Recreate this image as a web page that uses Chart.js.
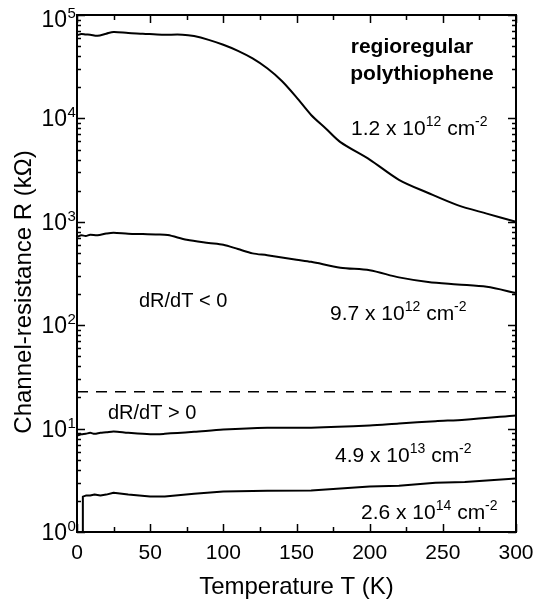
<!DOCTYPE html>
<html>
<head>
<meta charset="utf-8">
<script src="https://cdn.jsdelivr.net/npm/chart.js@4.4.1/dist/chart.umd.min.js"></script>
<style>
  html, body { margin: 0; padding: 0; background: #fff; }
  #wrap { width: 536px; height: 603px; }
</style>
</head>
<body>
<div id="wrap"><canvas id="chart"></canvas></div>
<script>
// 1.2 x 10^12 cm^-2
const temp1 = [0.5, 3, 6, 9, 14, 20, 25, 35, 45, 58, 72, 80, 90, 100, 110, 120, 130, 140, 150, 160, 170, 180, 200, 220, 240, 260, 280, 300];
const res1  = [64000, 65500, 64800, 64500, 63000, 66000, 68500, 67000, 66000, 64500, 64500, 62500, 57500, 51500, 45000, 38000, 30500, 23000, 16000, 10800, 8000, 5900, 4000, 2550, 1900, 1450, 1200, 1000];
// 9.7 x 10^12 cm^-2
const temp2 = [0.5, 3, 6, 9, 14, 20, 25, 35, 45, 55, 62, 75, 90, 100, 110, 120, 130, 150, 160, 180, 200, 220, 240, 260, 280, 300];
const res2  = [720, 740, 730, 750, 740, 770, 785, 765, 760, 755, 745, 670, 625, 600, 545, 495, 475, 430, 410, 360, 340, 290, 262, 248, 235, 205];
// 4.9 x 10^13 cm^-2
const temp3 = [0.5, 3, 6, 9, 12, 16, 20, 25, 35, 50, 60, 80, 100, 130, 160, 200, 220, 245, 265, 300];
const res3  = [8.6, 8.8, 8.9, 9.1, 8.9, 9.1, 9.2, 9.4, 9.1, 8.8, 8.9, 9.3, 9.8, 10.2, 10.2, 10.7, 11.2, 11.8, 12.2, 13.4];
// 2.6 x 10^14 cm^-2
const temp4 = [4, 4, 6, 9, 12, 16, 20, 25, 35, 50, 60, 80, 100, 130, 160, 200, 220, 245, 265, 300];
const res4  = [1, 2.2, 2.25, 2.25, 2.3, 2.25, 2.3, 2.4, 2.3, 2.2, 2.2, 2.35, 2.46, 2.5, 2.52, 2.75, 2.8, 3.0, 3.05, 3.3];
// dR/dT sign boundary
const tempDash = [0, 300];
const resDash  = [22.7, 22.7];

const xTicks = [0, 50, 100, 150, 200, 250, 300];
const xMinorStep = 25;
const yExponents = [0, 1, 2, 3, 4, 5];

const pts = (xs, ys) => xs.map((x, i) => ({ x: x, y: ys[i] }));

const FONT = '"Liberation Sans", Arial, Helvetica, sans-serif';

// text with superscripts: parts = [[text, isSup], ...]
function richText(ctx, parts, x, y, size, supSize) {
  let cx = x;
  ctx.textAlign = 'left';
  ctx.textBaseline = 'alphabetic';
  parts.forEach(p => {
    ctx.font = (p[1] ? supSize : size) + 'px ' + FONT;
    ctx.fillText(p[0], cx, p[1] ? y - size * 0.42 : y);
    cx += ctx.measureText(p[0]).width;
  });
}

const notes = [
  { parts: [['1.2 x 10', 0], ['12', 1], [' cm', 0], ['-2', 1]], x: 351, y: 135 },
  { parts: [['9.7 x 10', 0], ['12', 1], [' cm', 0], ['-2', 1]], x: 330, y: 320 },
  { parts: [['4.9 x 10', 0], ['13', 1], [' cm', 0], ['-2', 1]], x: 335, y: 462 },
  { parts: [['2.6 x 10', 0], ['14', 1], [' cm', 0], ['-2', 1]], x: 361, y: 519 },
  { parts: [['dR/dT < 0', 0]], x: 139, y: 307 },
  { parts: [['dR/dT > 0', 0]], x: 108, y: 419 }
];

const framePlugin = {
  id: 'frame',
  afterDraw(chart) {
    const ctx = chart.ctx;
    const a = chart.chartArea;
    const xs = chart.scales.x, ys = chart.scales.y;
    ctx.save();
    ctx.strokeStyle = '#000';
    ctx.fillStyle = '#000';
    ctx.lineWidth = 2;
    ctx.strokeRect(a.left, a.top, a.right - a.left, a.bottom - a.top);

    // x ticks, inward on bottom and top
    ctx.lineWidth = 1.5;
    ctx.beginPath();
    for (let v = xTicks[0]; v <= xTicks[xTicks.length - 1]; v += xMinorStep) {
      const px = Math.round(xs.getPixelForValue(v)) + 0.5;
      const len = xTicks.includes(v) ? 8 : 5;
      ctx.moveTo(px, a.bottom); ctx.lineTo(px, a.bottom - len);
      ctx.moveTo(px, a.top); ctx.lineTo(px, a.top + len);
    }
    // y ticks, inward on left and right
    yExponents.forEach(k => {
      const base = Math.pow(10, k);
      const py = Math.round(ys.getPixelForValue(base)) + 0.5;
      ctx.moveTo(a.left, py); ctx.lineTo(a.left + 8, py);
      ctx.moveTo(a.right, py); ctx.lineTo(a.right - 8, py);
      if (k < yExponents[yExponents.length - 1]) {
        for (let m = 2; m <= 9; m++) {
          const my = Math.round(ys.getPixelForValue(m * base)) + 0.5;
          ctx.moveTo(a.left, my); ctx.lineTo(a.left + 4, my);
          ctx.moveTo(a.right, my); ctx.lineTo(a.right - 4, my);
        }
      }
    });
    ctx.stroke();

    // x tick labels
    ctx.font = '21px ' + FONT;
    ctx.textAlign = 'center';
    ctx.textBaseline = 'alphabetic';
    xTicks.forEach(v => ctx.fillText(String(v), xs.getPixelForValue(v), 559));

    // y tick labels 10^k (top one sits a little lower, as in the original)
    const top = yExponents[yExponents.length - 1];
    yExponents.forEach(k => {
      const py = ys.getPixelForValue(Math.pow(10, k)) + (k === top ? 4 : 0);
      ctx.font = '23px ' + FONT;
      ctx.textAlign = 'right';
      ctx.fillText('10', 67, py + 8);
      ctx.font = '15px ' + FONT;
      ctx.textAlign = 'left';
      ctx.fillText(String(k), 67.5, py - 1);
    });

    // axis titles
    ctx.font = '24px ' + FONT;
    ctx.textAlign = 'center';
    ctx.fillText('Temperature T (K)', (a.left + a.right) / 2, 594);
    ctx.save();
    ctx.translate(31, 292);
    ctx.rotate(-Math.PI / 2);
    ctx.fillText('Channel-resistance R (k\u03A9)', 0, 0);
    ctx.restore();

    // annotations
    ctx.font = 'bold 21px ' + FONT;
    ctx.textAlign = 'center';
    ctx.fillText('regioregular', 412, 53);
    ctx.fillText('polythiophene', 422, 80);
    notes.forEach((n, i) => richText(ctx, n.parts, n.x, n.y, i < 4 ? 21 : 20, 14));
    ctx.restore();
  }
};

const solid = (data, tension) => ({
  data: data, borderColor: '#000', borderWidth: 2, pointRadius: 0,
  tension: tension, fill: false, borderJoinStyle: 'round', borderCapStyle: 'round'
});

new Chart(document.getElementById('chart'), {
  type: 'line',
  data: {
    datasets: [
      solid(pts(temp1, res1), 0.3),
      solid(pts(temp2, res2), 0.3),
      solid(pts(temp3, res3), 0.3),
      solid(pts(temp4, res4), 0),
      { data: pts(tempDash, resDash), borderColor: '#000', borderWidth: 1.5, borderDash: [11, 8], pointRadius: 0, fill: false }
    ]
  },
  options: {
    responsive: true,
    maintainAspectRatio: false,
    animation: false,
    devicePixelRatio: 1,
    layout: { padding: { top: 15, right: 20, left: 0, bottom: 0 } },
    plugins: { legend: { display: false }, tooltip: { enabled: false } },
    scales: {
      x: {
        type: 'linear', min: 0, max: 300,
        ticks: { display: false }, grid: { display: false }, border: { display: false },
        afterFit: s => { s.height = 71; }
      },
      y: {
        type: 'logarithmic', min: 1, max: 100000,
        ticks: { display: false }, grid: { display: false }, border: { display: false },
        afterFit: s => { s.width = 77; }
      }
    }
  },
  plugins: [framePlugin]
});
</script>
</body>
</html>
